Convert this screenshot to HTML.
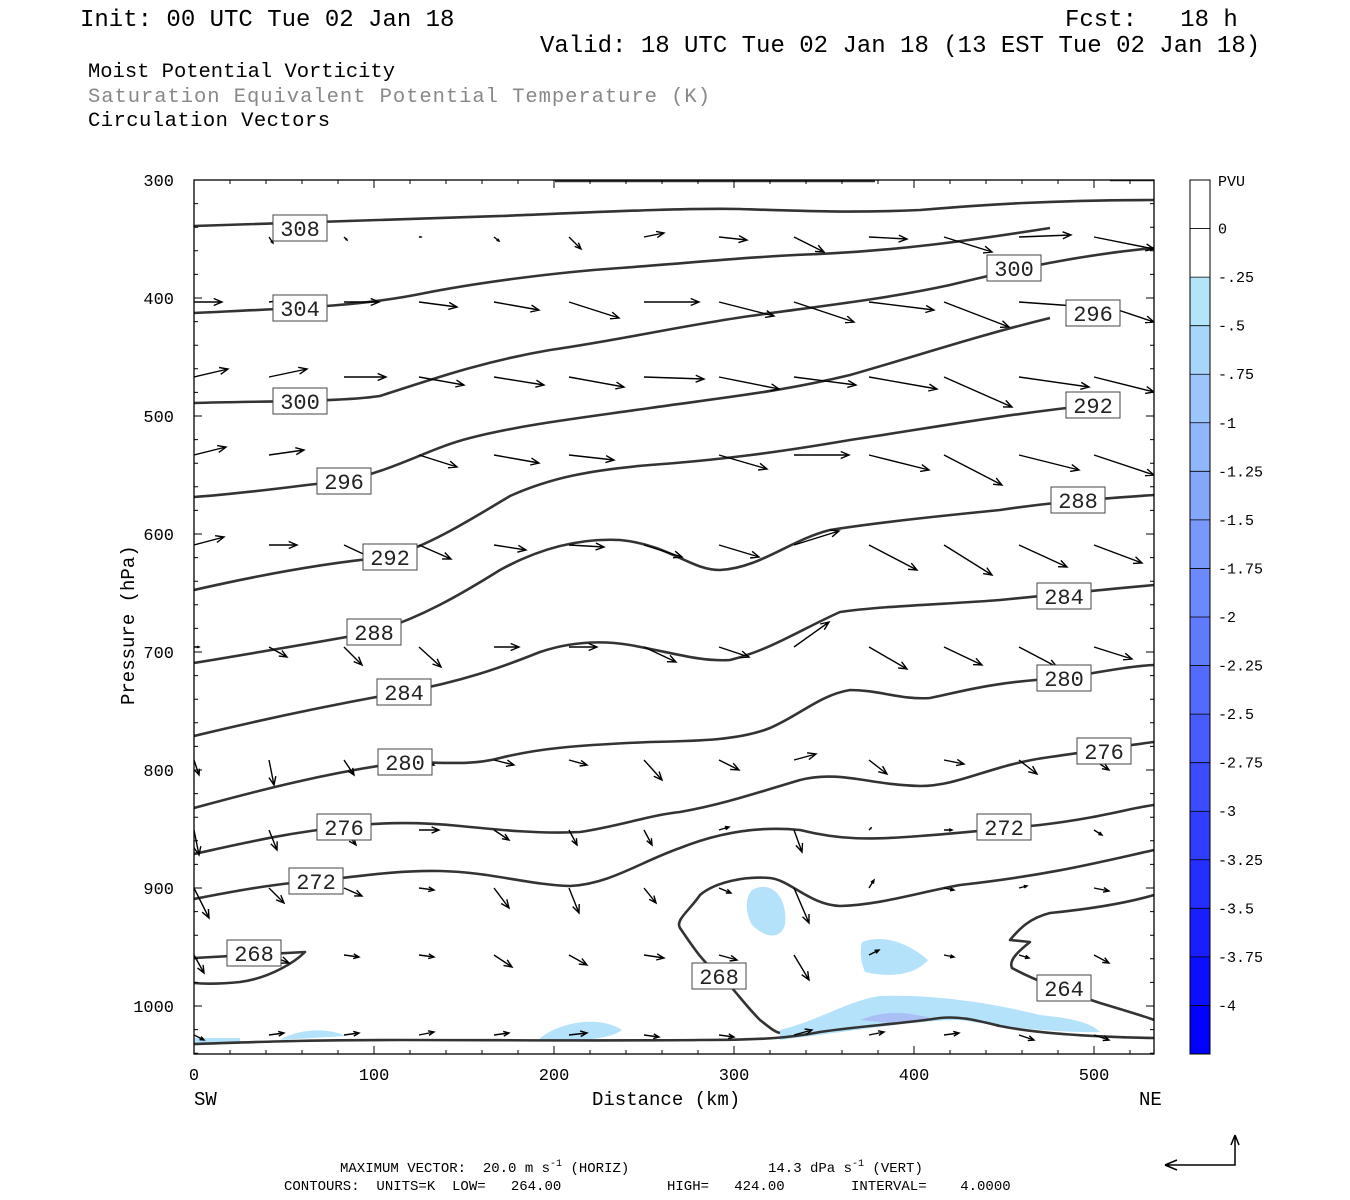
<!DOCTYPE html>
<html><head><meta charset="utf-8"><style>
html,body{margin:0;padding:0;background:#fff;}
svg{display:block;}
text{font-family:"Liberation Mono","DejaVu Sans Mono",monospace;}
.pre{white-space:pre;}
</style></head><body>
<svg id="s" width="1350" height="1200" xmlns="http://www.w3.org/2000/svg">
<defs><clipPath id="c"><rect x="194" y="180" width="960" height="874"/></clipPath></defs>
<g font-size="24" fill="#000" class="pre">
<text x="80" y="26">Init: 00 UTC Tue 02 Jan 18</text>
<text x="1065" y="26" class="pre">Fcst:   18 h</text>
<text x="540" y="52">Valid: 18 UTC Tue 02 Jan 18 (13 EST Tue 02 Jan 18)</text>
</g>
<g font-size="20.5" fill="#000">
<text x="88" y="77" textLength="307">Moist Potential Vorticity</text>
<text x="88" y="102" fill="#888" textLength="622">Saturation Equivalent Potential Temperature (K)</text>
<text x="88" y="126" textLength="242">Circulation Vectors</text>
</g>
<g clip-path="url(#c)">
<g fill="#b4e2fa" stroke="none">
<path d="M752,890 C770,880 788,895 785,925 C780,940 765,938 752,925 C745,912 745,898 752,890Z"/>
<path d="M862,942 C880,935 905,940 928,960 C915,975 890,978 865,972 C860,960 860,950 862,942Z"/>
<path d="M780,1030 C820,1020 850,1000 880,996 C940,994 1000,1005 1040,1015 C1070,1018 1090,1022 1100,1032 C1050,1033 1000,1026 960,1020 C920,1020 860,1030 780,1040Z"/>
<path d="M540,1038 C560,1022 600,1015 622,1030 C610,1040 570,1042 540,1040Z"/>
<path d="M280,1040 C300,1028 330,1028 345,1036 Z"/>
<path d="M194,1038 L240,1038 L240,1044 L194,1044Z"/>
<path d="M860,1020 C880,1012 900,1010 930,1018 L900,1024Z" fill="#aabff5"/>
</g>
<g fill="none" stroke="#333" stroke-width="2.6" stroke-linejoin="round">
<path d="M555,181 L875,181 M1110,180 L1154,180"/>
<path d="M194,226 C300,223 400,220 500,216 C600,212 680,208 740,209 C800,211 850,213 920,210 C980,205 1050,200 1154,200"/>
<path d="M194,313 C300,308 360,306 420,294 C480,282 560,272 620,268 C700,262 760,256 820,254 C900,250 960,242 1050,228 C1100,222 1154,220"/>
<path d="M194,403 C260,401 340,402 380,396 C430,380 480,362 550,350 C620,340 680,326 750,316 C820,306 880,300 950,285 C1020,268 1080,255 1154,248"/>
<path d="M194,497 C260,492 300,485 345,481 C400,468 430,448 470,438 C520,425 580,418 650,408 C720,398 780,392 850,375 C920,355 980,335 1050,318 C1100,308 1154,300"/>
<path d="M194,590 C260,575 330,562 390,557 C430,545 470,520 510,496 C550,478 590,470 650,465 C720,460 780,452 850,440 C930,428 1000,415 1093,405 C1120,400 1154,395"/>
<path d="M194,663 C260,652 320,642 374,632 C420,618 460,595 500,570 C540,548 580,538 620,540 C670,545 690,570 720,570 C760,568 790,540 830,530 C880,522 950,515 1000,510 C1040,504 1078,500 1154,495"/>
<path d="M194,736 C260,720 330,705 404,692 C460,682 500,668 540,652 C570,642 600,640 630,645 C670,652 700,662 730,660 C770,650 800,630 840,612 C880,606 950,604 1000,600 C1040,596 1100,590 1154,585"/>
<path d="M194,808 C260,790 330,772 405,762 C440,762 470,766 500,758 C540,748 580,745 650,742 C700,741 740,740 770,728 C800,715 820,695 850,690 C880,690 900,700 930,698 C960,692 990,682 1064,678 C1100,672 1130,666 1154,665"/>
<path d="M194,854 C240,844 290,832 344,827 C380,822 420,822 460,826 C500,830 540,834 580,832 C620,826 650,815 680,812 C720,805 750,795 800,780 C840,770 870,785 920,786 C960,786 990,765 1050,757 C1100,750 1130,745 1154,742"/>
<path d="M194,899 C240,890 280,883 316,881 C360,876 400,870 440,871 C490,872 530,885 570,886 C610,884 640,862 680,848 C720,832 760,826 800,830 C840,840 870,840 920,836 C960,833 990,830 1040,825 C1100,818 1130,808 1154,805"/>
<path d="M194,958 C230,956 270,954 305,952 C295,962 270,978 240,982 C220,984 205,984 194,983"/>
<path d="M1154,850 C1100,862 1050,875 960,885 C920,892 880,905 840,906 C810,905 790,880 770,878 C745,876 715,882 700,895 C690,910 675,920 680,928 C695,950 705,965 720,975 C735,990 745,1005 760,1020 C770,1028 775,1032 780,1033"/>
<path d="M1154,895 C1120,905 1080,910 1050,913 C1030,918 1020,928 1010,940 L1030,942 C1020,950 1008,960 1012,968 C1030,978 1060,990 1100,1003 C1130,1012 1150,1018 1154,1020"/>
<path d="M194,1044 C260,1042 300,1040 400,1040 C500,1040 600,1041 700,1040 C760,1040 790,1038 820,1032 C860,1026 900,1024 940,1018 C960,1016 975,1020 1000,1026 C1040,1034 1100,1037 1154,1038"/>
</g>
<g id="arr" stroke="#000" stroke-width="1.4" fill="none"></g>
</g>
<rect x="194" y="180" width="960" height="874" fill="none" stroke="#000" stroke-width="1.3"/>
<g id="lab" font-size="22"></g>
<g id="ax" font-size="17" font-family="Liberation Serif,serif"></g>
<g font-size="19">
<text x="194" y="1105">SW</text>
<text x="1139" y="1105">NE</text>
<text x="592" y="1105">Distance (km)</text>
<text transform="translate(134,705) rotate(-90)">Pressure (hPa)</text>
</g>
<g font-size="14" font-family="Liberation Serif,serif">
<text x="340" y="1172" class="pre">MAXIMUM VECTOR:  20.0 m s<tspan dy="-6" font-size="10">-1</tspan><tspan dy="6"> (HORIZ)</tspan></text>
<text x="768" y="1172" class="pre">14.3 dPa s<tspan dy="-6" font-size="10">-1</tspan><tspan dy="6"> (VERT)</tspan></text>
<text x="284" y="1190" class="pre">CONTOURS:  UNITS=K  LOW=   264.00</text>
<text x="667" y="1190" class="pre">HIGH=   424.00</text>
<text x="851" y="1190" class="pre">INTERVAL=    4.0000</text>
</g>
<path d="M1165,1165 L1235,1165 L1235,1135 M1165,1165 l12,-5 M1165,1165 l12,5 M1235,1135 l-4,10 M1235,1135 l4,10" stroke="#000" stroke-width="1.5" fill="none"/>
<g id="cb"></g>
</svg>
<script>
var NS="http://www.w3.org/2000/svg";
function el(p,t,a,txt){var e=document.createElementNS(NS,t);for(var k in a)e.setAttribute(k,a[k]);if(txt!=null)e.textContent=txt;p.appendChild(e);return e;}
var cols=[194,269,344,419,494,569,644,719,794,869,944,1019,1094];
var rows=[
[237,[[0,0],[4,6],[3,3],[2,0],[5,4],[12,12],[20,-4],[28,3],[30,15],[38,2],[48,15],[52,-2],[60,12]]],
[302,[[28,0],[30,-4],[35,0],[38,5],[45,8],[50,16],[55,0],[55,14],[60,20],[65,8],[65,25],[70,5],[60,20]]],
[377,[[34,-8],[38,-8],[42,0],[45,8],[50,8],[55,10],[60,2],[60,12],[62,8],[68,12],[68,30],[70,10],[60,15]]],
[455,[[32,-8],[35,-5],[0,0],[38,12],[45,8],[45,5],[0,0],[48,14],[55,0],[60,15],[58,30],[60,15],[60,20]]],
[545,[[30,-8],[28,0],[30,14],[32,14],[32,5],[35,2],[38,12],[40,12],[45,-14],[48,25],[48,30],[48,22],[48,18]]],
[647,[[5,0],[18,10],[18,18],[22,20],[25,0],[28,0],[32,15],[30,10],[35,-25],[38,22],[38,18],[38,20],[38,12]]],
[760,[[5,15],[5,25],[10,15],[15,5],[20,5],[18,5],[18,20],[20,10],[22,-6],[18,14],[20,4],[18,14],[15,10]]],
[830,[[5,25],[8,20],[12,15],[20,0],[15,10],[8,15],[8,15],[10,-3],[8,22],[2,-2],[8,0],[8,0],[8,5]]],
[888,[[15,30],[15,15],[18,8],[15,2],[15,20],[10,25],[12,15],[12,5],[15,35],[5,-8],[10,2],[8,-2],[15,3]]],
[955,[[10,18],[20,8],[15,2],[15,2],[18,12],[18,10],[20,3],[18,5],[15,25],[10,-5],[10,2],[10,3],[15,8]]],
[1035,[[10,5],[15,-2],[15,-2],[15,-3],[15,-2],[18,-2],[15,2],[15,2],[18,-5],[15,-3],[15,-2],[15,5],[15,5]]]
];
var g=document.getElementById('arr');var d="";
rows.forEach(function(r){r[1].forEach(function(v,i){var x=cols[i],y=r[0],dx=v[0],dy=v[1];var L=Math.hypot(dx,dy);if(L<1)return;
var x2=x+dx,y2=y+dy,ux=dx/L,uy=dy/L,h=Math.min(9,L*0.4);
d+="M"+x+","+y+"L"+x2+","+y2;
var a=0.4;var c=Math.cos(a),s=Math.sin(a);
d+="M"+(x2-h*(ux*c-uy*s)).toFixed(1)+","+(y2-h*(uy*c+ux*s)).toFixed(1)+"L"+x2+","+y2+"L"+(x2-h*(ux*c+uy*s)).toFixed(1)+","+(y2-h*(uy*c-ux*s)).toFixed(1);});});
el(g,'path',{d:d});
var labs=[[300,228,"308"],[300,308,"304"],[300,401,"300"],[1014,268,"300"],[1093,313,"296"],[344,481,"296"],[1093,405,"292"],[390,557,"292"],[1078,500,"288"],[374,632,"288"],[1064,596,"284"],[404,692,"284"],[1064,678,"280"],[405,762,"280"],[1104,751,"276"],[344,827,"276"],[1004,827,"272"],[316,881,"272"],[254,953,"268"],[719,976,"268"],[1064,988,"264"]];
var lg=document.getElementById('lab');
labs.forEach(function(l){el(lg,'rect',{x:l[0]-27,y:l[1]-13,width:54,height:26,fill:'#fff',stroke:'#444','stroke-width':1});el(lg,'text',{x:l[0],y:l[1]+8,'text-anchor':'middle',fill:'#222'},l[2]);});
var ax=document.getElementById('ax');
for(var p=300;p<=1000;p+=100){var y=180+(p-300)*1.18;el(ax,'text',{x:174,y:y+6,'text-anchor':'end'},String(p));el(ax,'path',{d:"M194,"+y+"h8M1154,"+y+"h-8",stroke:'#000'});}
for(var p=320;p<=1040;p+=20){if(p%100==0)continue;var y=180+(p-300)*1.18;el(ax,'path',{d:"M194,"+y+"h4M1154,"+y+"h-4",stroke:'#000'});}
for(var k=0;k<=500;k+=100){var x=194+k*1.8;el(ax,'text',{x:x,y:1080,'text-anchor':'middle'},String(k));el(ax,'path',{d:"M"+x+",1054v-8M"+x+",180v8",stroke:'#000'});}
for(var k=20;k<=520;k+=20){if(k%100==0)continue;var x=194+k*1.8;el(ax,'path',{d:"M"+x+",1054v-4M"+x+",180v4",stroke:'#000'});}
var cb=document.getElementById('cb');var bh=874/18;
var lbl=["0","-.25","-.5","-.75","-1","-1.25","-1.5","-1.75","-2","-2.25","-2.5","-2.75","-3","-3.25","-3.5","-3.75","-4"];
for(var i=0;i<18;i++){var y=180+i*bh,col;
if(i<2)col='#ffffff';else{var t=(i-2)/15;var r=Math.round(180*(1-t)),gg=Math.round(228*(1-t)),b=Math.round(250+5*t);col='rgb('+r+','+gg+','+b+')';}
el(cb,'rect',{x:1190,y:y,width:20,height:bh+0.5,fill:col,stroke:'none'});}
el(cb,'rect',{x:1190,y:180,width:20,height:874,fill:'none',stroke:'#000','stroke-width':1});
for(var i=1;i<18;i++){var y=180+i*bh;el(cb,'path',{d:"M1190,"+y+"h20",stroke:'#000','stroke-width':0.8});el(cb,'text',{x:1218,y:y+5,'font-size':15,'font-family':'Liberation Serif,serif'},lbl[i-1]);}
el(cb,'text',{x:1218,y:186,'font-size':15,'font-family':'Liberation Serif,serif'},"PVU");
</script>
</body></html>
